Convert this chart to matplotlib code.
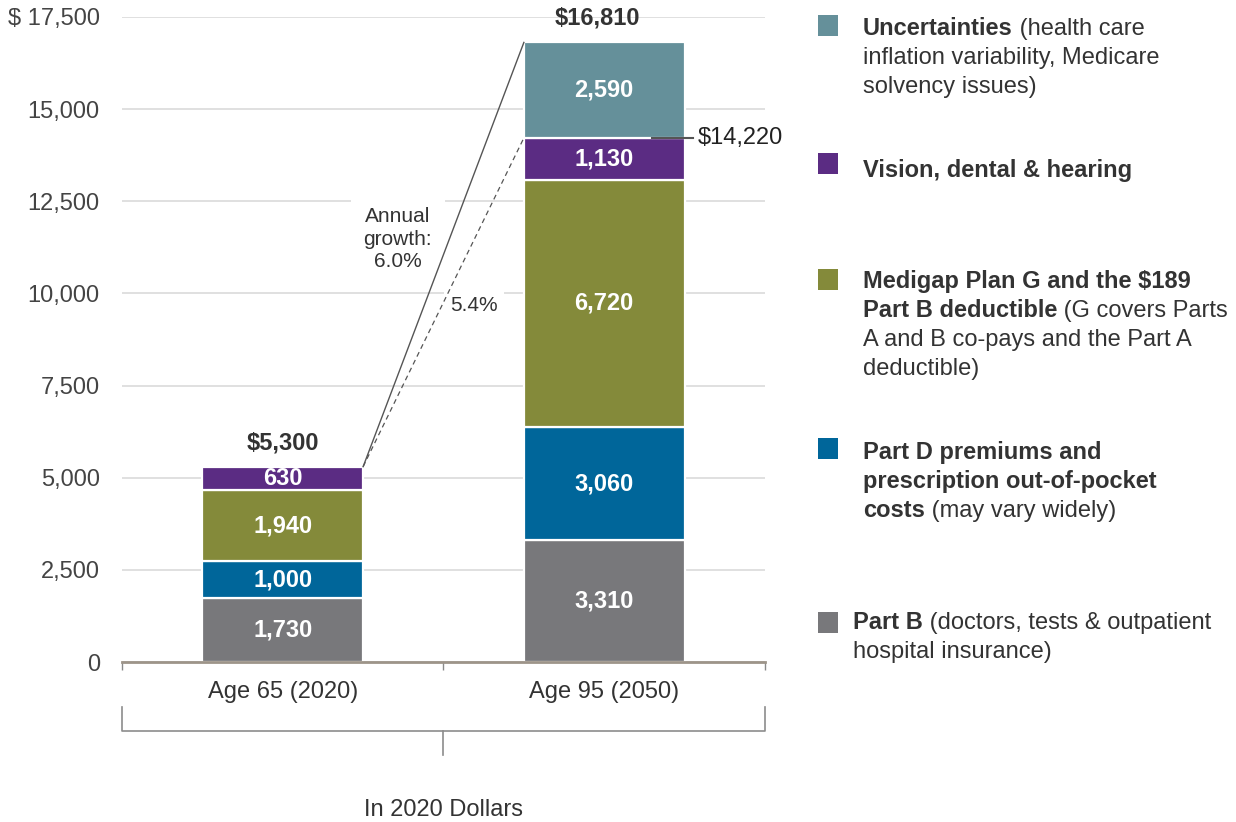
import matplotlib
matplotlib.use('Agg')
import matplotlib.pyplot as plt
from matplotlib.patches import Rectangle

plt.rcParams['font.family'] = ['Liberation Sans', 'DejaVu Sans']

# data
categories = ['Age 65 (2020)', 'Age 95 (2050)']
part_b = [1730, 3310]
part_d = [1000, 3060]
medigap = [1940, 6720]
vision = [630, 1130]
uncertainties = [0, 2590]
totals = [5300, 16810]
subtotal_95 = 14220
growth_total = '6.0%'
growth_sub = '5.4%'
y_ticks = [0, 2500, 5000, 7500, 10000, 12500, 15000, 17500]

series = [part_b, part_d, medigap, vision, uncertainties]
colors = ['#78787b', '#00669a', '#848a3a', '#5b2c83', '#65909a']

W, H = 1236, 822
fig = plt.figure(figsize=(W / 100, H / 100), dpi=100)
ax = fig.add_axes([122 / W, 160 / H, 643 / W, 645 / H])

DARK = '#333333'

# stacked bars
for i in range(len(categories)):
    bottom = 0
    for vals, col in zip(series, colors):
        v = vals[i]
        if v == 0:
            continue
        ax.bar(i, v, width=0.5, bottom=bottom, color=col, edgecolor='white',
               linewidth=1.6, zorder=2)
        ax.text(i, bottom + v / 2, f'{v:,}', ha='center', va='center',
                color='white', fontsize=17, fontweight='bold', zorder=3)
        bottom += v

# totals above bars
ax.text(0, totals[0] + 640, f'${totals[0]:,}', ha='center', va='center',
        fontsize=17, fontweight='bold', color=DARK)
ax.text(0.98, totals[1] + 660, f'${totals[1]:,}', ha='center', va='center',
        fontsize=17, fontweight='bold', color=DARK, clip_on=False)

# growth lines
ax.plot([0.25, 0.75], [totals[0], totals[1]], color='#555555', lw=1.0, zorder=5)
ax.plot([0.25, 0.75], [totals[0], subtotal_95], color='#555555', lw=0.9,
        linestyle=(0, (4, 3)), zorder=5)
ax.text(0.358, 11470, 'Annual\ngrowth:\n' + growth_total, ha='center', va='center',
        fontsize=15, color=DARK, linespacing=1.22, zorder=4,
        bbox=dict(boxstyle='square,pad=0.6', fc='white', ec='none'))
ax.text(0.595, 9660, growth_sub, ha='center', va='center', fontsize=15,
        color=DARK, zorder=4,
        bbox=dict(boxstyle='square,pad=0.3', fc='white', ec='none'))

# subtotal leader
ax.plot([1.15, 1.275], [subtotal_95, subtotal_95], color='#555555', lw=1.5,
        clip_on=False, zorder=5)
ax.text(1.29, subtotal_95, f'${subtotal_95:,}', ha='left', va='center',
        fontsize=17, color='#222222', clip_on=False)

# axes styling
ax.set_xlim(-0.5, 1.5)
ax.set_ylim(0, 17500)
ax.set_yticks(y_ticks)
ax.set_yticklabels(['$ 17,500' if v == 17500 else f'{v:,}' for v in y_ticks])
ax.tick_params(axis='y', length=0, pad=16, labelsize=17, labelcolor='#444444')
ax.set_xticks([0, 1])
ax.set_xticklabels(categories)
ax.tick_params(axis='x', which='major', length=0, pad=14, labelsize=17,
               labelcolor='#333333')
ax.set_xticks([-0.5, 0.5, 1.5], minor=True)
ax.tick_params(axis='x', which='minor', length=6, width=1, color='#8a8a8a',
               direction='out')
ax.yaxis.grid(True, color='#dddddd', lw=1.3, zorder=0)
ax.set_axisbelow(True)
for s in ['left', 'right', 'top']:
    ax.spines[s].set_visible(False)
ax.spines['bottom'].set_color('#9d9489')
ax.spines['bottom'].set_linewidth(2)
ax.spines['bottom'].set_zorder(4)

# bracket under categories
tr = ax.get_xaxis_transform()
ax.plot([-0.5, -0.5, 1.5, 1.5], [-0.0698, -0.107, -0.107, -0.0698], color='#8c8c8c',
        lw=1.2, transform=tr, clip_on=False)
ax.plot([0.5, 0.5], [-0.107, -0.144], color='#8c8c8c', lw=1.2, transform=tr,
        clip_on=False)
ax.text(0.5, -0.2295, 'In 2020 Dollars', ha='center', va='center', fontsize=17,
        color='#333333', transform=tr)

# legend with mixed bold / regular text
fig.canvas.draw()
renderer = fig.canvas.get_renderer()


def legend_line(x_px, base_px, parts):
    x = x_px
    for s, bold in parts:
        t = fig.text(x / W, 1 - base_px / H, s, fontsize=17,
                     fontweight='bold' if bold else 'normal', color=DARK,
                     ha='left', va='baseline')
        x += t.get_window_extent(renderer).width


legend = [
    (colors[4], 15, 863, 35, [
        [('Uncertainties', True), (' (health care', False)],
        [('inflation variability, Medicare', False)],
        [('solvency issues)', False)]]),
    (colors[3], 153, 863, 177, [
        [('Vision, dental & hearing', True)]]),
    (colors[2], 269, 863, 288, [
        [('Medigap Plan G and the $189', True)],
        [('Part B deductible', True), (' (G covers Parts', False)],
        [('A and B co-pays and the Part A', False)],
        [('deductible)', False)]]),
    (colors[1], 438, 863, 459, [
        [('Part D premiums and', True)],
        [('prescription out-of-pocket', True)],
        [('costs', True), (' (may vary widely)', False)]]),
    (colors[0], 612, 853, 629, [
        [('Part B', True), (' (doctors, tests & outpatient', False)],
        [('hospital insurance)', False)]]),
]

for col, sq_top, tx, base, lines in legend:
    fig.add_artist(Rectangle((818 / W, 1 - (sq_top + 21) / H), 20 / W, 21 / H,
                             transform=fig.transFigure, facecolor=col,
                             edgecolor='none'))
    for k, parts in enumerate(lines):
        legend_line(tx, base + k * 29, parts)

fig.savefig('out.png', dpi=100)
